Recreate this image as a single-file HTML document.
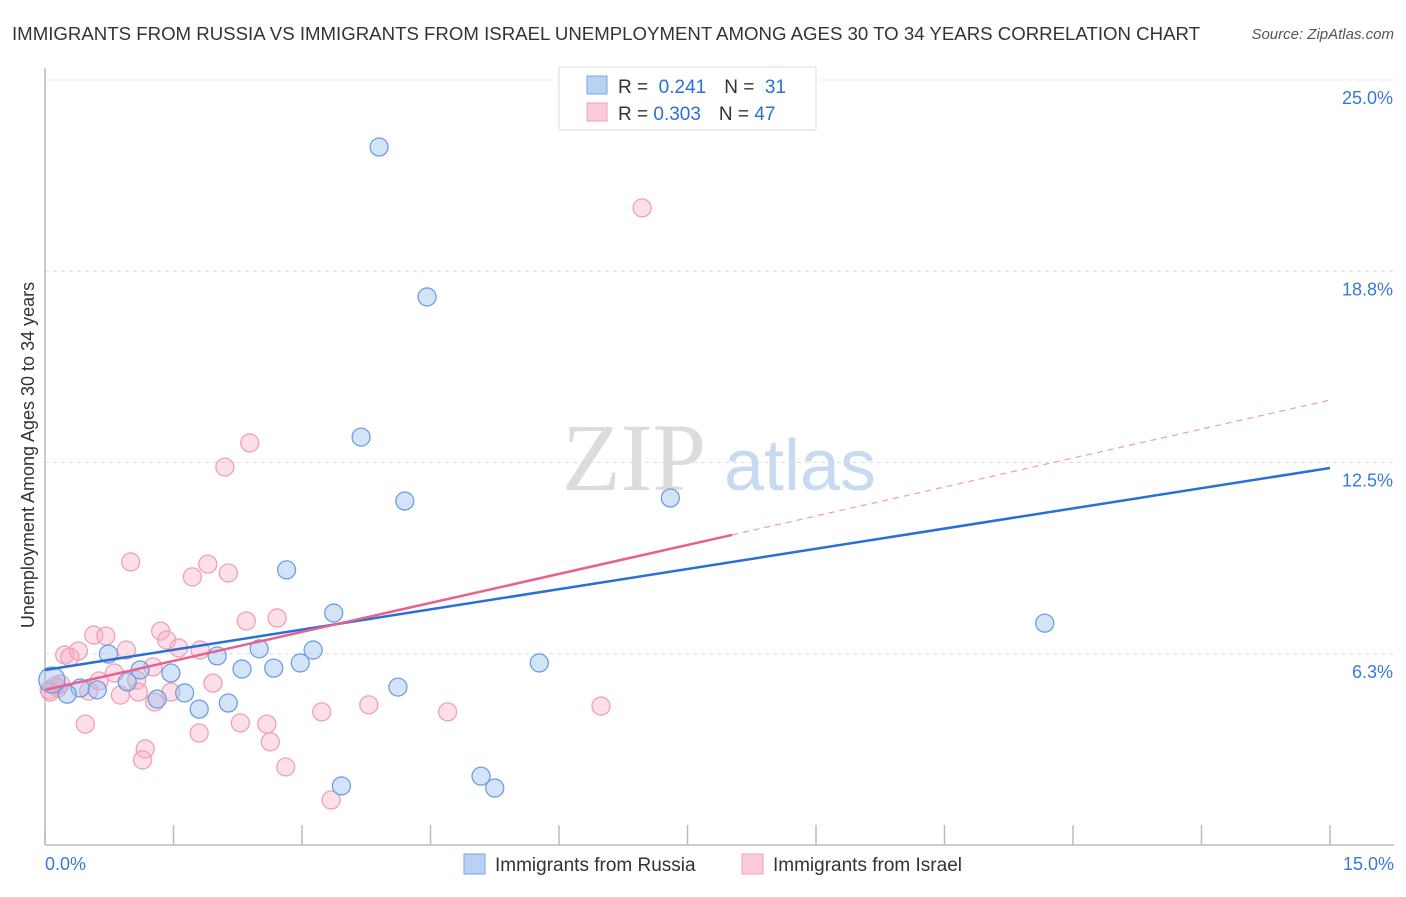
<!DOCTYPE html>
<html><head><meta charset="utf-8"><style>
body{margin:0;background:#fff;font-family:"Liberation Sans",sans-serif}
svg text{font-family:"Liberation Sans",sans-serif}
</style></head><body>
<svg id="chart" width="1406" height="892" viewBox="0 0 1406 892">
<text x="12" y="40" font-size="18" fill="#333" textLength="1188" lengthAdjust="spacingAndGlyphs">IMMIGRANTS FROM RUSSIA VS IMMIGRANTS FROM ISRAEL UNEMPLOYMENT AMONG AGES 30 TO 34 YEARS CORRELATION CHART</text>
<text x="1394" y="39" font-size="15" fill="#555" font-style="italic" text-anchor="end">Source: ZipAtlas.com</text>
<g>
<text x="634" y="490" font-size="96" fill="#dcdcdc" text-anchor="middle" font-family="Liberation Serif" style="font-family:'Liberation Serif',serif">ZIP</text>
<text x="800" y="490" font-size="72" fill="#c8daf2" text-anchor="middle">atlas</text>
</g>
<g id="grid"></g>
<g id="axes"></g>
<g id="marks"></g>
<text transform="translate(34,455) rotate(-90)" font-size="18" fill="#333" text-anchor="middle">Unemployment Among Ages 30 to 34 years</text>
<g>
<rect x="559" y="67" width="257" height="63" fill="#fff" stroke="#ddd"/>
<rect x="587" y="76" width="20" height="18" fill="#b8d2f4" stroke="#7aa6e0"/>
<rect x="587" y="103" width="20" height="18" fill="#fccbd9" stroke="#f0a0b8"/>
<text x="618" y="93" font-size="19" fill="#333">R = <tspan fill="#2a6fd6">&#160;0.241</tspan><tspan dx="18" fill="#333">N = </tspan><tspan fill="#2a6fd6">&#160;31</tspan></text>
<text x="618" y="120" font-size="19" fill="#333">R = <tspan fill="#2a6fd6">0.303</tspan><tspan dx="18" fill="#333">N = </tspan><tspan fill="#2a6fd6">47</tspan></text>
</g>
<g>
<rect x="464" y="854" width="21" height="20" fill="#b8d2f4" stroke="#7aa6e0"/>
<text x="495" y="871" font-size="19" fill="#333">Immigrants from Russia</text>
<rect x="742" y="854" width="21" height="20" fill="#fccbd9" stroke="#f0a0b8"/>
<text x="773" y="871" font-size="19" fill="#333">Immigrants from Israel</text>
</g>
</svg>
<script>
const blueX=[3.90,4.46,3.69,4.20,7.30,2.82,3.37,11.67,3.13,2.50,2.01,0.74,2.98,2.67,2.30,1.47,1.11,5.77,0.96,0.61,0.41,0.26,0.08,1.63,1.31,2.14,1.80,4.12,5.09,3.46,5.25];
const blueY=[22.81,17.91,13.33,11.24,11.34,8.99,7.58,7.25,6.37,6.41,6.18,6.24,5.95,5.78,5.75,5.62,5.72,5.95,5.33,5.07,5.13,4.93,5.39,4.97,4.77,4.64,4.44,5.16,2.25,1.93,1.86];
const pinkX=[6.97,2.39,2.10,1.00,1.90,1.72,2.14,2.71,2.35,1.35,0.57,0.71,1.42,1.56,1.81,0.95,0.39,0.23,0.29,1.26,0.81,0.63,1.07,1.96,1.47,1.09,0.88,0.51,0.05,0.12,1.28,3.78,6.49,4.70,3.23,0.47,2.28,2.59,1.80,2.63,1.17,1.14,2.81,3.34,0.15,0.06,0.18];
const pinkY=[20.82,13.14,12.35,9.25,9.18,8.76,8.89,7.42,7.32,6.99,6.86,6.83,6.70,6.44,6.37,6.37,6.34,6.21,6.14,5.82,5.62,5.36,5.39,5.29,5.00,5.00,4.90,5.03,5.07,5.20,4.67,4.58,4.54,4.35,4.35,3.95,3.99,3.95,3.66,3.37,3.14,2.78,2.55,1.47,5.13,5.00,5.26];
const blueTrend=[5.72,12.32];
const pinkTrend=[5.07,14.54];
const pinkSolidEnd=8.02;
const xTicks=[0,1.5,3,4.5,6,7.5,9,10.5,12,13.5,15];
const yTicks=[25,18.75,12.5,6.25];
const yTickLabels=["25.0%","18.8%","12.5%","6.3%"];
const xTickLabels=["0.0%","15.0%"];

const NS="http://www.w3.org/2000/svg";
const X0=45,X1=1330,Y0=845,Y1=80;
function sx(v){return X0+(v/15)*(X1-X0);}
function sy(v){return Y0-(v/25)*(Y0-Y1);}
function mk(tag,attrs,parent){const e=document.createElementNS(NS,tag);for(const k in attrs)e.setAttribute(k,attrs[k]);parent.appendChild(e);return e;}
const grid=document.getElementById('grid'),axes=document.getElementById('axes'),marks=document.getElementById('marks');
yTicks.forEach((t,i)=>{
  const g=mk('line',{x1:X0,x2:1394,y1:sy(t),y2:sy(t),stroke:'#ddd','stroke-dasharray':'4,4'},grid);
  
  
  const l=mk('text',{x:1393,y:sy(t)+24,'font-size':18,fill:'#3a78d8','text-anchor':'end'},axes);
  l.textContent=yTickLabels[i];
  
  
});
const ax=mk('line',{x1:X0,x2:1394,y1:Y0,y2:Y0,stroke:'#bbb','stroke-width':1.5},axes);


const ay=mk('line',{x1:X0,x2:X0,y1:68,y2:Y0,stroke:'#bbb','stroke-width':1.5},axes);


xTicks.forEach(t=>{
  const k=mk('line',{x1:sx(t),x2:sx(t),y1:Y0,y2:Y0-20,stroke:'#bbb','stroke-width':1.5},axes);
  
  
});
const xl0=mk('text',{x:45,y:870,'font-size':18,fill:'#3a78d8'},axes);
xl0.textContent=xTickLabels[0];


const xl1=mk('text',{x:1394,y:870,'font-size':18,fill:'#3a78d8','text-anchor':'end'},axes);
xl1.textContent=xTickLabels[1];



function dot(x,y,fill,stroke,name,r){
  const c=mk('circle',{cx:sx(x),cy:sy(y),r:r,fill:fill,stroke:stroke,'stroke-width':1.3},marks);
  
  
}
pinkX.forEach((x,i)=>dot(x,pinkY[i],'rgba(248,170,195,0.38)','#f0a0b8','israel-point',9));
blueX.forEach((x,i)=>dot(x,blueY[i],'rgba(150,190,240,0.42)','#6d9fe0','russia-point',i===22?13:9));

const bl=mk('line',{x1:sx(0),y1:sy(blueTrend[0]),x2:sx(15),y2:sy(blueTrend[1]),stroke:'#2a6fd6','stroke-width':2.5},marks);


const pAt=v=>pinkTrend[0]+(pinkTrend[1]-pinkTrend[0])*v/15;
const pd=mk('line',{x1:sx(pinkSolidEnd),y1:sy(pAt(pinkSolidEnd)),x2:sx(15),y2:sy(pinkTrend[1]),stroke:'#f0a0b8','stroke-width':1.3,'stroke-dasharray':'6,5'},marks);


const pl=mk('line',{x1:sx(0),y1:sy(pinkTrend[0]),x2:sx(pinkSolidEnd),y2:sy(pAt(pinkSolidEnd)),stroke:'#e8608e','stroke-width':2.5},marks);


</script>
</body></html>
